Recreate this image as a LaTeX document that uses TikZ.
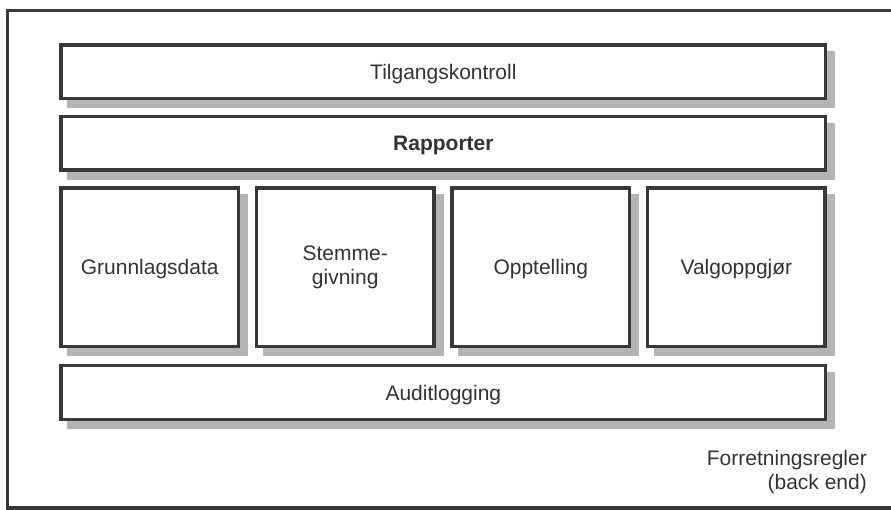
\documentclass[tikz,border=0pt]{standalone}
\usepackage{fontspec}
\setmainfont{Liberation Sans}
\usetikzlibrary{shadows}
\definecolor{edge}{HTML}{383838}
\definecolor{shade}{HTML}{B4B4B4}
\definecolor{ink}{HTML}{333333}
\begin{document}
\begin{tikzpicture}[x=1pt,y=-1pt,
  layer/.style={draw=edge, line width=3.3pt, fill=white, rectangle, inner sep=0pt,
    text=ink, font=\fontsize{21}{24}\selectfont,
    general shadow={fill=shade, draw=shade, line width=3.3pt, shadow xshift=8pt, shadow yshift=-8pt}},
  wide/.style={layer, minimum width=764.7pt, minimum height=53.4pt, text height=15pt, text depth=0pt},
  module/.style={layer, minimum width=177.4pt, minimum height=158.5pt, align=center},
  caption/.style={inner sep=0pt, text=ink, font=\fontsize{21}{24}\selectfont, align=right}]
\useasboundingbox (0,0) rectangle (891,510);
\clip (0,0) rectangle (891,510);
\draw[draw=edge, line width=3.3pt] (7.7,10.5) rectangle (900,508);

\node[wide] (tilgang) at (443.35,71.75) {Tilgangskontroll};
\node[wide, font=\fontsize{21}{24}\selectfont\bfseries] (rapporter) at (443.35,143.35) {Rapporter};
\node[module, text height=15pt, text depth=0pt] (grunnlag) at (149.7,267.25) {Grunnlagsdata};
\node[module] (stemme) at (345.2,267.25) {Stemme-\\givning};
\node[module, text height=15pt, text depth=0pt] (opptelling) at (540.8,267.25) {Opptelling};
\node[module, text height=15pt, text depth=0pt] (valgopp) at (736.4,267.25) {Valgoppgjør};
\node[wide] (audit) at (443.35,392.5) {Auditlogging};

\node[caption, anchor=north east] (forr) at (867,449.7) {Forretningsregler\\(back end)};
\end{tikzpicture}
\end{document}
